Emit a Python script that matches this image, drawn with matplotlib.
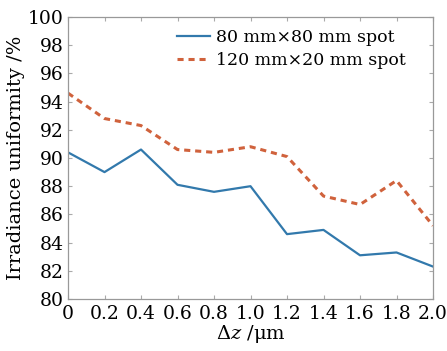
import matplotlib
matplotlib.use('Agg')
import matplotlib.pyplot as plt

# values
dz = [0, 0.2, 0.4, 0.6, 0.8, 1.0, 1.2, 1.4, 1.6, 1.8, 2.0]
spot_80x80 = [90.4, 89.0, 90.6, 88.1, 87.6, 88.0, 84.6, 84.9, 83.1, 83.3, 82.3]
spot_120x20 = [94.6, 92.8, 92.3, 90.6, 90.4, 90.8, 90.1, 87.3, 86.7, 88.4, 85.2]
xtick_labels = ['0', '0.2', '0.4', '0.6', '0.8', '1.0', '1.2', '1.4', '1.6', '1.8', '2.0']
yticks = [80, 82, 84, 86, 88, 90, 92, 94, 96, 98, 100]

plt.rcParams['font.family'] = ['DejaVu Serif']
plt.rcParams['mathtext.fontset'] = 'dejavuserif'

fig = plt.figure(figsize=(4.47, 3.51), dpi=100)
ax = fig.add_axes([68 / 447, 52 / 351, 365 / 447, 282 / 351])

ax.plot(dz, spot_80x80, color='#3279ac', lw=1.6, label='80 mm\u00d780 mm spot')
ax.plot(dz, spot_120x20, color='#d0623c', lw=2.2, ls=(0, (2, 1.6)), label='120 mm\u00d720 mm spot')

ax.set_xlim(0, 2.0)
ax.set_ylim(80, 100)
ax.set_xticks(dz)
ax.set_xticklabels(xtick_labels)
ax.set_yticks(yticks)
ax.tick_params(direction='in', length=3, color='#aaaaaa', labelsize=13.5,
               top=True, right=True)
ax.tick_params(axis='x', pad=4)
ax.tick_params(axis='y', pad=3)
for s in ax.spines.values():
    s.set_color('#999999')
    s.set_linewidth(0.9)

ax.set_xlabel('$\\Delta z$ /\u03bcm', fontsize=14, labelpad=0)
ax.set_ylabel('Irradiance uniformity /%', fontsize=14, labelpad=2)

ax.legend(loc='upper right', frameon=False, fontsize=12.5, handlelength=1.9,
          handletextpad=0.4, labelspacing=0.35, borderaxespad=0.3,
          bbox_to_anchor=(0.96, 1.0))

fig.savefig('out.png', dpi=100)
